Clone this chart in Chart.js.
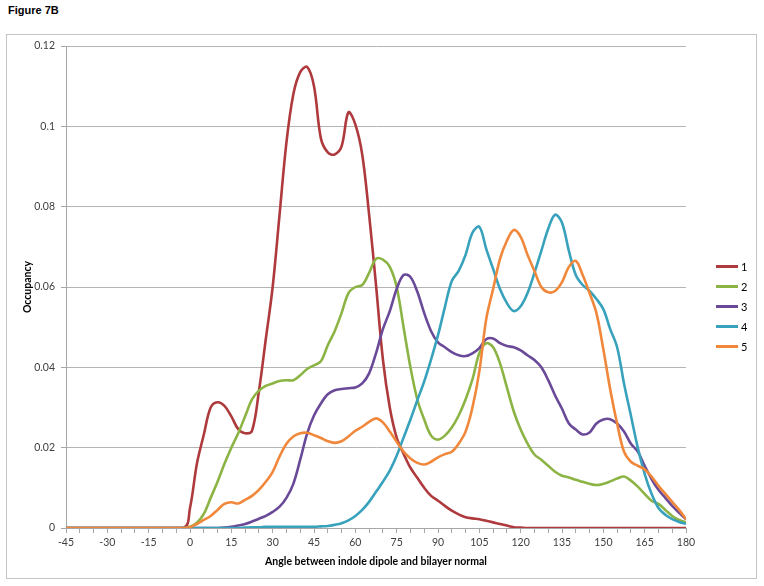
<!DOCTYPE html>
<html>
<head>
<meta charset="utf-8">
<script src="https://cdn.jsdelivr.net/npm/chart.js@4.4.0/dist/chart.umd.min.js"></script>
<style>
  body { margin: 0; background: #fff; width: 764px; height: 586px; position: relative; overflow: hidden; }
  #fig-title { position: absolute; left: 8px; top: 4px; font: bold 11px "Liberation Sans", Arial, sans-serif; color: #000; }
  #frame { position: absolute; left: 6px; top: 34px; width: 749px; height: 543px; border: 1px solid #c4c4c4; }
  #legend { position: absolute; left: 716px; top: 256px; font: 11px Lato, sans-serif; color: #000; }
  #legend .item { height: 20px; display: flex; align-items: center; }
  #legend .swatch { width: 22px; height: 3px; margin-right: 3px; }
</style>
</head>
<body>
<div id="fig-title">Figure 7B</div>
<div id="frame"><canvas id="occupancyChart"></canvas></div>
<div id="legend"></div>
<script>
// angle bins (degrees)
const angles = [-45, -2.5,
  0, 2.5, 5, 7.5, 10, 12.5, 15, 17.5, 20, 22.5,
  25, 27.5, 30, 32.5, 35, 37.5, 40, 42.5, 45, 47.5,
  50, 52.5, 55, 57.5, 60, 62.5, 65, 67.5, 70, 72.5,
  75, 77.5, 80, 82.5, 85, 87.5, 90, 92.5, 95, 97.5,
  100, 102.5, 105, 107.5, 110, 112.5, 115, 117.5, 120, 122.5,
  125, 127.5, 130, 132.5, 135, 137.5, 140, 142.5, 145, 147.5,
  150, 152.5, 155, 157.5, 160, 162.5, 165, 167.5, 170, 172.5,
  175, 177.5, 180];

const occupancy1 = [0, 0,
  0.005, 0.016, 0.0232, 0.030, 0.0313, 0.0304, 0.0278, 0.0246, 0.0236, 0.0242,
  0.034, 0.047, 0.060, 0.078, 0.096, 0.108, 0.1135, 0.1148, 0.110, 0.097,
  0.0935, 0.093, 0.095, 0.1035, 0.1005, 0.093, 0.078, 0.0605, 0.042, 0.030,
  0.0225, 0.0185, 0.015, 0.0125, 0.010, 0.008, 0.0068, 0.0055, 0.0043, 0.0034,
  0.0027, 0.0024, 0.0022, 0.0018, 0.0014, 0.001, 0.0006, 0.0002, 0.0001, 0,
  0, 0, 0, 0, 0, 0, 0, 0, 0, 0,
  0, 0, 0, 0, 0, 0, 0, 0, 0, 0,
  0, 0, 0];

const occupancy2 = [0, 0,
  0.0003, 0.0013, 0.0035, 0.0075, 0.0115, 0.016, 0.020, 0.0236, 0.0278, 0.032,
  0.0342, 0.0354, 0.036, 0.0366, 0.0368, 0.0368, 0.038, 0.0396, 0.0405, 0.0415,
  0.0455, 0.049, 0.0535, 0.0585, 0.060, 0.0605, 0.0635, 0.067, 0.0668, 0.065,
  0.060, 0.050, 0.040, 0.032, 0.027, 0.023, 0.022, 0.023, 0.025, 0.028,
  0.032, 0.037, 0.0435, 0.046, 0.045, 0.041, 0.035, 0.029, 0.0245, 0.021,
  0.0183, 0.017, 0.0155, 0.014, 0.013, 0.0126, 0.012, 0.0115, 0.011, 0.0107,
  0.011, 0.0116, 0.0123, 0.0128, 0.0118, 0.0103, 0.0085, 0.0068, 0.006, 0.0045,
  0.003, 0.002, 0.0014];

const occupancy3 = [0, 0,
  0, 0, 0, 0, 0, 0.0001, 0.0003, 0.0006, 0.001, 0.0016,
  0.0023, 0.003, 0.004, 0.0053, 0.0075, 0.011, 0.017, 0.0235, 0.028, 0.031,
  0.0333, 0.0343, 0.0346, 0.0348, 0.035, 0.036, 0.0385, 0.0435, 0.0495, 0.054,
  0.0595, 0.063, 0.0625, 0.0588, 0.0535, 0.049, 0.0462, 0.045, 0.0438, 0.043,
  0.0428, 0.0435, 0.0448, 0.047, 0.0472, 0.046, 0.0453, 0.045, 0.0442, 0.043,
  0.0418, 0.040, 0.0368, 0.033, 0.0297, 0.026, 0.0245, 0.0233, 0.0238, 0.026,
  0.027, 0.0271, 0.026, 0.024, 0.021, 0.019, 0.0155, 0.0122, 0.0095, 0.0075,
  0.0055, 0.0038, 0.0022];

const occupancy4 = [0, 0,
  0, 0, 0, 0, 0, 0, 0, 0, 0.0001, 0.0002,
  0.0002, 0.0003, 0.0003, 0.0003, 0.0003, 0.0003, 0.0003, 0.0003, 0.0003, 0.0004,
  0.0005, 0.0008, 0.0012, 0.0019, 0.003, 0.0045, 0.0065, 0.009, 0.0115, 0.0143,
  0.018, 0.0225, 0.027, 0.0318, 0.0365, 0.042, 0.048, 0.055, 0.0615, 0.064,
  0.068, 0.0735, 0.075, 0.0695, 0.0645, 0.0595, 0.056, 0.054, 0.0552, 0.0585,
  0.0635, 0.069, 0.0745, 0.078, 0.076, 0.069, 0.063, 0.0605, 0.059, 0.057,
  0.0545, 0.0495, 0.045, 0.036, 0.028, 0.020, 0.0135, 0.0085, 0.005, 0.0033,
  0.0022, 0.0015, 0.001];

const occupancy5 = [0, 0,
  0.0002, 0.001, 0.002, 0.003, 0.0045, 0.006, 0.0064, 0.0061, 0.007, 0.008,
  0.0095, 0.0115, 0.014, 0.0178, 0.021, 0.0228, 0.0236, 0.0237, 0.0231, 0.0224,
  0.0216, 0.0212, 0.0216, 0.0228, 0.0242, 0.0252, 0.0264, 0.0273, 0.0263, 0.024,
  0.0215, 0.019, 0.0173, 0.0162, 0.0158, 0.0165, 0.0176, 0.0184, 0.019, 0.021,
  0.024, 0.030, 0.039, 0.052, 0.0595, 0.067, 0.0715, 0.0742, 0.0725, 0.068,
  0.064, 0.060, 0.0587, 0.059, 0.0612, 0.065, 0.0665, 0.063, 0.0585, 0.0535,
  0.0445, 0.0345, 0.026, 0.019, 0.0165, 0.0155, 0.0146, 0.0128, 0.0105, 0.0085,
  0.0065, 0.0045, 0.0022];

const seriesNames = ["1", "2", "3", "4", "5"];
const seriesValues = [occupancy1, occupancy2, occupancy3, occupancy4, occupancy5];
const seriesColors = ["#AE3A3D", "#8CB445", "#6A4A98", "#38A2BC", "#F0873A"];

const xTickLabels = ["-45", "-30", "-15", "0", "15", "30", "45", "60", "75", "90", "105", "120", "135", "150", "165", "180"];
const yTickLabels = ["0", "0.02", "0.04", "0.06", "0.08", "0.1", "0.12"];

const axisGray = "#a6a6a6";
const tickFont = { family: "Lato, sans-serif", size: 10.5 };
const titleFont = { family: "Lato, sans-serif", size: 10.5, weight: "bold" };

// legend as plain html, right side
const legendBox = document.getElementById("legend");
seriesNames.forEach(function (name, i) {
    const item = document.createElement("div");
    item.className = "item";
    item.innerHTML = '<span class="swatch" style="background:' + seriesColors[i] + '"></span>' + name;
    legendBox.appendChild(item);
});

const datasets = seriesNames.map(function (name, i) {
    return {
        label: name,
        data: angles.map(function (a, j) { return { x: a, y: seriesValues[i][j] }; }),
        borderColor: seriesColors[i],
        backgroundColor: seriesColors[i],
        borderWidth: 2.6,
        pointRadius: 0,
        tension: 0.35,
        fill: false,
        order: seriesNames.length - i
    };
});

function zeroPadding(scale) {
    scale.paddingTop = 0;
    scale.paddingBottom = 0;
    scale.paddingLeft = 0;
    scale.paddingRight = 0;
}

new Chart(document.getElementById("occupancyChart").getContext("2d"), {
    type: "line",
    data: { datasets: datasets },
    options: {
        responsive: true,
        maintainAspectRatio: false,
        animation: false,
        layout: { padding: { top: 11, right: 70, left: 0, bottom: 0 } },
        plugins: {
            legend: { display: false },
            tooltip: { enabled: false }
        },
        scales: {
            x: {
                type: "linear",
                min: -45,
                max: 180,
                afterFit: function (scale) { scale.height = 50; zeroPadding(scale); },
                ticks: {
                    stepSize: 5,
                    autoSkip: false,
                    maxRotation: 0,
                    padding: 3,
                    color: "#404040",
                    font: tickFont,
                    callback: function (value) {
                        const s = String(Math.round(value));
                        return xTickLabels.includes(s) ? s : "";
                    }
                },
                grid: { drawOnChartArea: false, tickLength: 5, color: axisGray },
                border: { display: true, color: axisGray },
                title: {
                    display: true,
                    text: "Angle between indole dipole and bilayer normal",
                    color: "#000",
                    font: titleFont,
                    padding: { top: 0, bottom: 10 }
                }
            },
            y: {
                min: 0,
                max: 0.12,
                afterFit: function (scale) { scale.width = 59; zeroPadding(scale); },
                ticks: {
                    stepSize: 0.02,
                    padding: 6,
                    color: "#404040",
                    font: tickFont,
                    callback: function (value, index) { return yTickLabels[index]; }
                },
                grid: { color: "#b4b4b4", tickLength: 5, tickColor: axisGray },
                border: { display: true, color: axisGray },
                title: {
                    display: true,
                    text: "Occupancy",
                    color: "#000",
                    font: titleFont,
                    padding: { top: 14, bottom: 0 }
                }
            }
        }
    }
});
</script>
</body>
</html>
